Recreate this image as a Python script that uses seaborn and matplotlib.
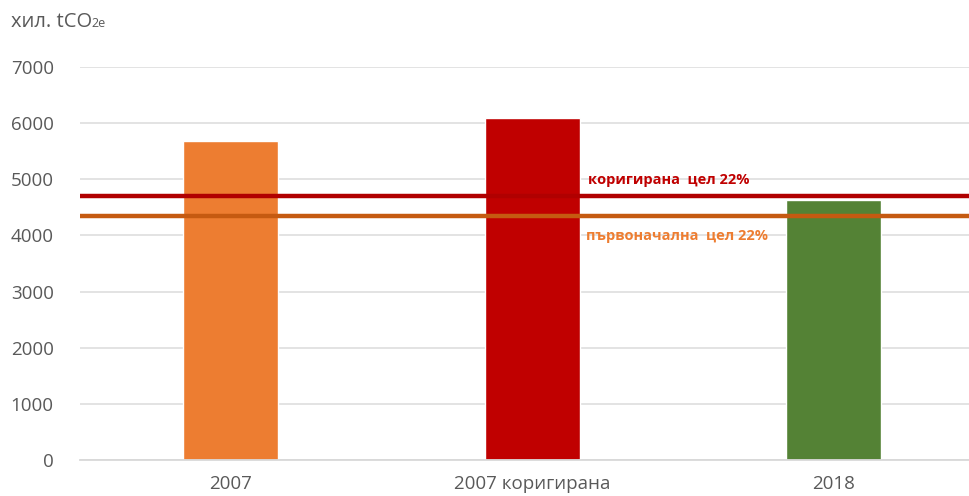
import matplotlib
matplotlib.use("Agg")
import matplotlib.pyplot as plt
import pandas as pd
import seaborn as sns

categories = ["2007", "2007 коригирана", "2018"]
emissions = [5680, 6090, 4630]
bar_colors = ["#ED7D31", "#C00000", "#548235"]

target_revised = 4710
target_original = 4350
label_revised = "коригирана  цел 22%"
label_original = "първоначална  цел 22%"
y_ticks = [0, 1000, 2000, 3000, 4000, 5000, 6000, 7000]

sns.set_theme(style="white")
plt.rcParams["font.family"] = ["Open Sans", "DejaVu Sans"]

df = pd.DataFrame({"category": categories, "value": emissions})

fig = plt.figure(figsize=(9.69, 4.96), dpi=100)
ax = fig.add_axes([0.0826, 0.0726, 0.9174, 0.7924])

sns.barplot(data=df, x="category", y="value", hue="category", palette=bar_colors,
            width=0.315, legend=False, ax=ax, zorder=2, saturation=1)

ax.set_xlim(-0.5, 2.45)
ax.set_ylim(0, 7000)
ax.set_yticks(y_ticks)
ax.yaxis.grid(True, color="#E0E0E0", linewidth=1.3, zorder=0)
ax.set_axisbelow(True)
for side in ["top", "right", "left"]:
    ax.spines[side].set_visible(False)
ax.spines["bottom"].set_color("#D9D9D9")
ax.spines["bottom"].set_linewidth(1.3)
ax.tick_params(axis="both", length=0, labelsize=13.5, labelcolor="#595959")
ax.tick_params(axis="x", pad=11)
ax.tick_params(axis="y", pad=19)
ax.set_xlabel("")
ax.set_ylabel("")

ax.axhline(target_revised, color="#B00000", linewidth=3.2, zorder=3)
ax.axhline(target_original, color="#C55A11", linewidth=3.2, zorder=3)
ax.text(1.185, target_revised + 270, label_revised, color="#C00000", fontsize=10.5,
        fontweight="bold", va="center", ha="left")
ax.text(1.18, target_original - 360, label_original, color="#ED7D31", fontsize=10.5,
        fontweight="bold", va="center", ha="left")

unit = fig.text(0.011, 0.945, "хил. tCO", fontsize=14.5, color="#595959",
                va="baseline", ha="left")
fig.canvas.draw()
bb = unit.get_window_extent().transformed(fig.transFigure.inverted())
fig.text(bb.x1, 0.945, "2e", fontsize=9, color="#595959", va="baseline", ha="left")

fig.savefig("out.png", dpi=100)
